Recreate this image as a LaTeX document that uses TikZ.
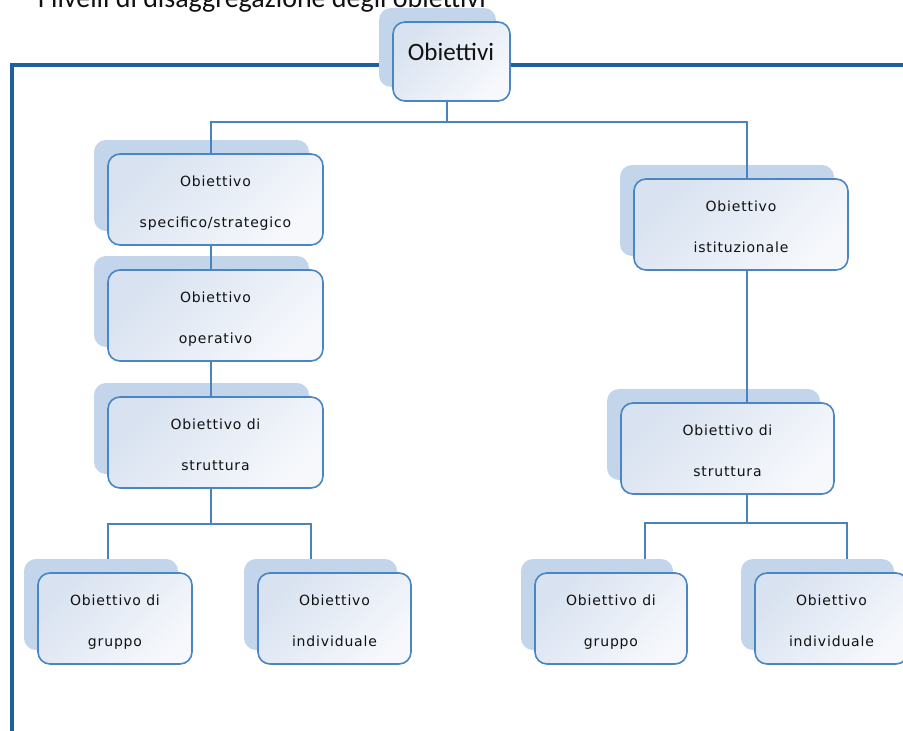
\documentclass[tikz,border=0pt]{standalone}
\usepackage{fontspec}
\newfontfamily\lblfont{DejaVu Sans}[LetterSpace=6]
\newfontfamily\titlefont{Carlito}
\usetikzlibrary{calc}
\definecolor{framecol}{HTML}{1E5F9E}
\definecolor{framelight}{HTML}{BCD2EA}
\definecolor{conncol}{HTML}{4A82BE}
\definecolor{boxline}{HTML}{4A86C4}
\definecolor{boxtop}{HTML}{D8E2F0}
\definecolor{boxbot}{HTML}{F6F8FC}
\definecolor{shadowcol}{HTML}{C3D5EA}
\definecolor{textcol}{HTML}{111111}
\pgfdeclarelayer{bg}
\pgfsetlayers{bg,main}
\tikzset{
  mainbox/.style={draw=boxline, line width=1.6pt, rounded corners=12pt, top color=boxtop, bottom color=boxbot, shading angle=45, inner sep=0pt},
  shadowbox/.style={fill=shadowcol, draw=none, rounded corners=12pt, inner sep=0pt},
  lbl/.style={font=\lblfont\fontsize{14}{16}\selectfont, text=textcol, inner sep=0pt, anchor=base},
  titletext/.style={font=\titlefont\fontsize{25}{28}\selectfont, text=textcol, inner sep=0pt, anchor=base},
  conn/.style={draw=conncol, line width=2pt},
  frameline/.style={draw=framecol, line width=3.4pt},
}
\newcommand{\mkbox}[6]{%
  \node[shadowbox, minimum width=#4pt, minimum height=91pt] (#1s) at ({#2-14},{#3+31.5}) {};
  \node[mainbox, minimum width=#4pt, minimum height=91pt] (#1) at (#2,{#3+45.5}) {};
  \node[lbl] (#1a) at (#2,{#3+32}) {#5};
  \node[lbl] (#1b) at (#2,{#3+73}) {#6};
}
\begin{document}
\begin{tikzpicture}[x=1pt,y=-1pt]
\useasboundingbox (0,0) rectangle (903,731);
\clip (0,0) rectangle (903,731);

% caption (cut off at top edge, as in the reference)
\node[titletext, font=\titlefont\fontsize{28}{30}\selectfont, anchor=base east] (cap) at (486,7) {I livelli di disaggregazione degli obiettivi};

% root
\node[shadowbox, minimum width=117pt, minimum height=79pt] (obs) at (437.5,47.5) {};
\node[mainbox, minimum width=117pt, minimum height=79pt] (ob) at (451.5,61.5) {};
\node[titletext] (obt) at (451,60) {Obiettivi};

% boxes
\mkbox{b1}{215.5}{154}{215}{Obiettivo}{specifico/strategico}
\mkbox{b2}{215.5}{270}{215}{Obiettivo}{operativo}
\mkbox{b3}{215.5}{397}{215}{Obiettivo di}{struttura}
\mkbox{b4}{115}{573}{154}{Obiettivo di}{gruppo}
\mkbox{b5}{334.5}{573}{153}{Obiettivo}{individuale}
\mkbox{r1}{741}{179}{214}{Obiettivo}{istituzionale}
\mkbox{r2}{727.5}{403}{213}{Obiettivo di}{struttura}
\mkbox{r3}{611}{573}{152}{Obiettivo di}{gruppo}
\mkbox{r4}{831.5}{573}{153}{Obiettivo}{individuale}

% frame (behind the root box and its shadow)
\coordinate (fbl) at (12,745);
\coordinate (fr) at (915,65);
\begin{pgfonlayer}{bg}
\fill[white] (0,0) rectangle (903,731);
\draw[frameline] (fbl) |- ([yshift=-3.5pt]ob.west);
\draw[frameline] ([yshift=-3.5pt]ob.east) -- (fr);
\end{pgfonlayer}

% connectors
\coordinate (jt) at (447,122);
\draw[conn] ([xshift=-4.5pt]ob.south) -- (jt);
\draw[conn] ([xshift=-4.5pt]b1.north) |- (jt) -| ([xshift=6pt]r1.north);
\draw[conn] ([xshift=-4.5pt]b1.south) -- ([xshift=-4.5pt]b2.north);
\draw[conn] ([xshift=-4.5pt]b2.south) -- ([xshift=-4.5pt]b3.north);
\coordinate (jl) at (211,524);
\draw[conn] ([xshift=-4.5pt]b3.south) -- (jl);
\draw[conn] ([xshift=7pt]b4s.north) |- (jl) -| ([xshift=-9.5pt]b5s.north);
\draw[conn] ([xshift=6pt]r1.south) -- ([xshift=19.5pt]r2.north);
\coordinate (jr) at (747,523);
\draw[conn] ([xshift=19.5pt]r2.south) -- (jr);
\draw[conn] ([xshift=48pt]r3s.north) |- (jr) -| ([xshift=29.5pt]r4s.north);
\end{tikzpicture}
\end{document}
